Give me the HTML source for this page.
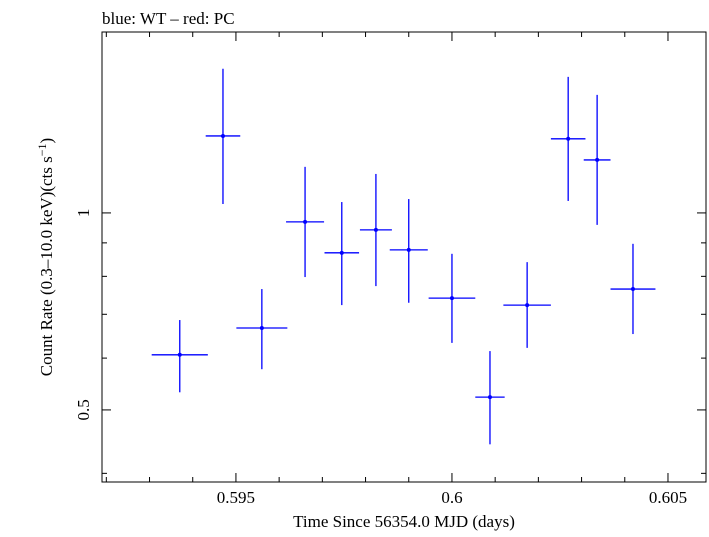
<!DOCTYPE html>
<html><head><meta charset="utf-8"><style>
body{margin:0;background:#fff}
svg text{font-family:"Liberation Serif",serif;fill:#000}
</style></head><body>
<svg id="chart" width="709" height="532" xmlns="http://www.w3.org/2000/svg">
<text x="102" y="24" font-size="17">blue: WT – red: PC</text>
<rect x="102" y="32" width="604" height="450" fill="none" stroke="#000" stroke-width="1"/>
<g id="ticks"></g>
<g id="marks"></g>
<text x="404" y="527" font-size="17" text-anchor="middle">Time Since 56354.0 MJD (days)</text>
<text transform="translate(52,257) rotate(-90)" font-size="17" text-anchor="middle">Count Rate (0.3–10.0 keV)(cts s<tspan dy="-6" font-size="12">−1</tspan><tspan dy="6">)</tspan></text>
</svg>
<script>
const xVals=[0.59370,0.59470,0.59560,0.59660,0.59745,0.59824,0.59900,0.60000,0.60088,0.60174,0.60269,0.60336,0.60419];
const xErr=[0.00065,0.00040,0.00059,0.00044,0.00040,0.00037,0.00044,0.00054,0.00034,0.00055,0.00040,0.00031,0.00052];
const yVals=[0.607,1.311,0.667,0.969,0.869,0.942,0.878,0.741,0.523,0.723,1.298,1.205,0.765];
const yHi=[0.686,1.661,0.765,1.176,1.039,1.147,1.050,0.866,0.615,0.841,1.614,1.515,0.897];
const yLo=[0.532,1.032,0.577,0.798,0.723,0.773,0.729,0.633,0.443,0.622,1.043,0.959,0.653];
const xTickLabels=["0.595","0.6","0.605"];
const xTickVals=[0.595,0.600,0.605];
const yTickLabels=["0.5","1"];
const yTickVals=[0.5,1];
const L=102,R=706,T=32,B=482;
const xMin=0.59190,xMax=0.60588,yMin=0.388,yMax=1.89;
const sx=v=>L+(v-xMin)/(xMax-xMin)*(R-L);
const sy=v=>B-(Math.log10(v)-Math.log10(yMin))/(Math.log10(yMax)-Math.log10(yMin))*(B-T);
const NS="http://www.w3.org/2000/svg";
function line(g,x1,y1,x2,y2,c,w){const l=document.createElementNS(NS,"line");l.setAttribute("x1",x1);l.setAttribute("y1",y1);l.setAttribute("x2",x2);l.setAttribute("y2",y2);l.setAttribute("stroke",c);l.setAttribute("stroke-width",w);g.appendChild(l);return l;}
const tg=document.getElementById("ticks");
for(let k=0;k<=14;k++){const v=0.592+k*0.001;if(v>xMax)break;const x=sx(v);const major=Math.abs(((v*1000)%5+5)%5)<0.01||Math.abs(((v*1000)%5)-5)<0.01;const len=major?9:5;
const a=line(tg,x,B,x,B-len,"#000",1);
const b=line(tg,x,T,x,T+len,"#000",1);}
xTickVals.forEach((v,i)=>{const t=document.createElementNS(NS,"text");t.setAttribute("x",sx(v));t.setAttribute("y",503);t.setAttribute("font-size","17");t.setAttribute("text-anchor","middle");t.textContent=xTickLabels[i];


tg.appendChild(t);});
[0.4,0.5,0.6,0.7,0.8,0.9,1,2].forEach(v=>{if(v<yMin||v>yMax)return;const y=sy(v);const major=(v===0.5||v===1);const len=major?9:5;
const a=line(tg,L,y,L+len,y,"#000",1);
const b=line(tg,R,y,R-len,y,"#000",1);});
yTickVals.forEach((v,i)=>{const t=document.createElementNS(NS,"text");const y=sy(v);t.setAttribute("transform",`translate(89,${y}) rotate(-90)`);t.setAttribute("font-size","17");t.setAttribute("text-anchor","middle");t.textContent=yTickLabels[i];


tg.appendChild(t);});
const mg=document.getElementById("marks");
xVals.forEach((xv,i)=>{const g=document.createElementNS(NS,"g");


line(g,sx(xv-xErr[i]),sy(yVals[i]),sx(xv+xErr[i]),sy(yVals[i]),"#0000ff",1.3);
line(g,sx(xv),sy(yHi[i]),sx(xv),sy(yLo[i]),"#0000ff",1.3);
const c=document.createElementNS(NS,"circle");c.setAttribute("cx",sx(xv));c.setAttribute("cy",sy(yVals[i]));c.setAttribute("r",2);c.setAttribute("fill","#0000ff");g.appendChild(c);
mg.appendChild(g);});
</script>
</body></html>
